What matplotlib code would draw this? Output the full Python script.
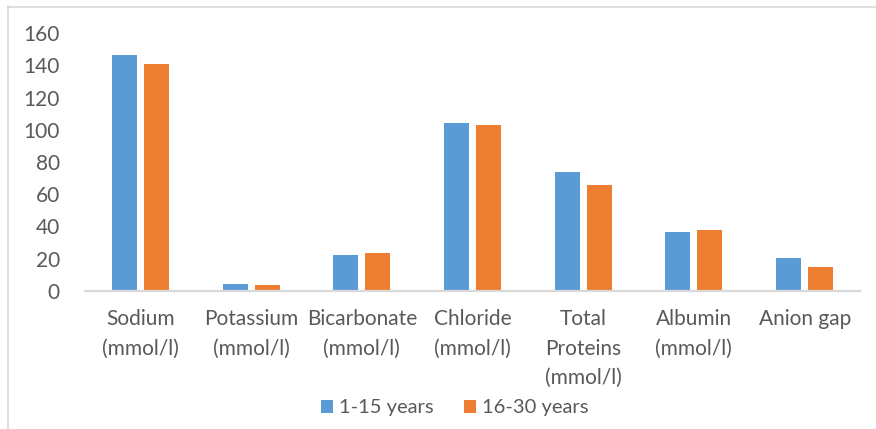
import numpy as np
import matplotlib.pyplot as plt
from matplotlib.lines import Line2D

categories = ['Sodium\n(mmol/l)', 'Potassium\n(mmol/l)', 'Bicarbonate\n(mmol/l)',
              'Chloride\n(mmol/l)', 'Total\nProteins\n(mmol/l)', 'Albumin\n(mmol/l)',
              'Anion gap']
young = [146.5, 4.2, 22.3, 104.2, 74.0, 36.6, 20.3]
older = [141.0, 3.6, 23.6, 103.2, 65.8, 37.6, 14.9]
yticks = [0, 20, 40, 60, 80, 100, 120, 140, 160]

plt.rcParams['font.family'] = ['Lato', 'DejaVu Sans']
W, H = 876, 429
fig = plt.figure(figsize=(W / 100, H / 100), dpi=100)
ax = fig.add_axes([85 / W, 1 - 291 / H, 775 / W, 258 / H])

x = np.arange(len(categories))
w = 0.226
ax.bar(x - 0.145, young, w, color='#5B9BD5', label='1-15 years')
ax.bar(x + 0.145, older, w, color='#ED7D31', label='16-30 years')

ax.set_xlim(-0.5, len(categories) - 0.5)
ax.set_ylim(0, 160)
ax.set_yticks(yticks)
ax.set_xticks(x)
ax.set_xticklabels(categories, linespacing=1.6, fontsize=14.5)
ax.tick_params(length=0, labelsize=15, colors='#595959')
ax.tick_params(axis='y', pad=18)
ax.tick_params(axis='x', pad=13)
for s in ['top', 'right', 'left']:
    ax.spines[s].set_visible(False)
ax.spines['bottom'].set_color('#D9D9D9')
ax.spines['bottom'].set_linewidth(1.6)

leg = fig.legend(loc='center', bbox_to_anchor=(455 / W, 1 - 408 / H), ncol=2,
                 frameon=False, fontsize=14.5, handlelength=0.6, handleheight=0.6,
                 handletextpad=0.3, columnspacing=1.5)
for t in leg.get_texts():
    t.set_color('#595959')

# border lines of the cropped chart frame
fig.add_artist(Line2D([8 / W, 8 / W], [0, 1 - 6 / H], color='#D9D9D9', lw=1.2))
fig.add_artist(Line2D([8 / W, 1], [1 - 6.5 / H, 1 - 6.5 / H], color='#D9D9D9', lw=1.2))

fig.savefig('out.png', dpi=100)
